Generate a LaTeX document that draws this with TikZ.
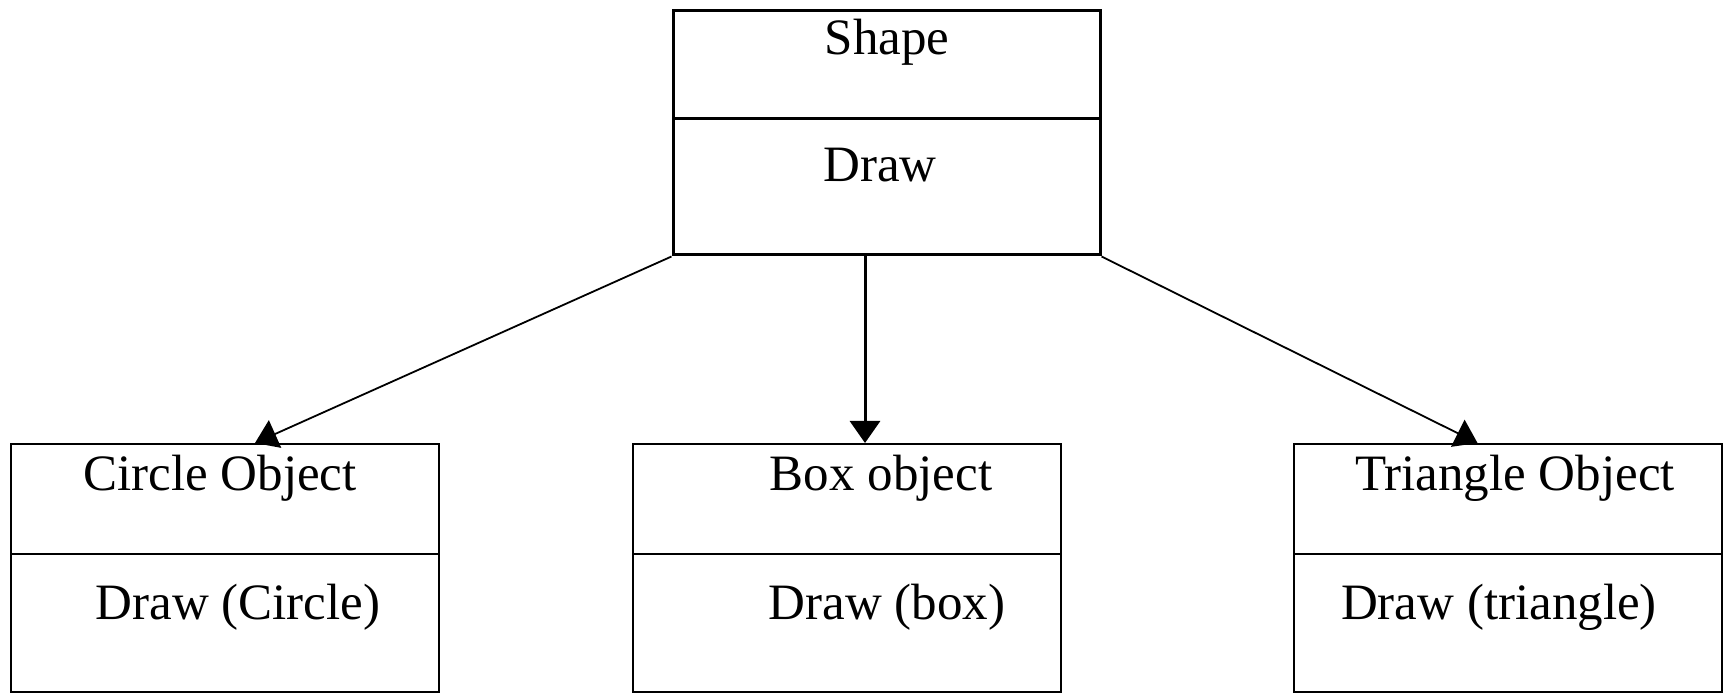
\documentclass[tikz,border=0pt]{standalone}
\usepackage{fontspec}
\setmainfont{Liberation Serif}
\usetikzlibrary{arrows.meta}
\usetikzlibrary{positioning}

\begin{document}
\begin{tikzpicture}[x=0.5pt,y=-0.5pt,
    cell/.style={draw=black, line width=1pt, minimum width=214pt, inner sep=0pt},
    bigcell/.style={draw=black, line width=1.5pt, minimum width=213.5pt, inner sep=0pt},
    word/.style={anchor=base, inner sep=0pt, font=\fontsize{25.5}{30}\selectfont},
    link/.style={line width=0.9pt, -{Triangle[length=11pt,width=15pt]}}]
\useasboundingbox (0,0) rectangle (1727,694);

% parent class
\node[bigcell, minimum height=54pt] (shapeTop) at (886.5,65) {};
\node[bigcell, minimum height=68pt] (shapeBot) at (886.5,187) {};
\node[word] (shapeName) at (887,55) {Shape};
\node[word] (shapeDraw) at (880,182) {Draw};

% child classes
\node[cell, minimum height=55pt] (circleTop) at (225,499) {};
\node[cell, minimum height=69pt] (circleBot) at (225,623) {};
\node[word] (circleName) at (220,490) {Circle Object};
\node[word] (circleDraw) at (238,619) {Draw (Circle)};

\node[cell, minimum height=55pt] (boxTop) at (846.5,499) {};
\node[cell, minimum height=69pt] (boxBot) at (846.5,623) {};
\node[word] (boxName) at (881,490) {Box object};
\node[word] (boxDraw) at (887,619) {Draw (box)};

\node[cell, minimum height=55pt] (triTop) at (1507.5,499) {};
\node[cell, minimum height=69pt] (triBot) at (1507.5,623) {};
\node[word] (triName) at (1515,490) {Triangle Object};
\node[word] (triDraw) at (1499,619) {Draw (triangle)};

% inheritance arrows
\draw[link] (shapeBot.south west) -- ([xshift=15pt]circleTop.north);
\draw[link, line width=1.5pt] ([xshift=-10.75pt]shapeBot.south) -- ([xshift=9.25pt]boxTop.north);
\draw[link] (shapeBot.south east) -- ([xshift=-15pt]triTop.north);

\end{tikzpicture}
\end{document}
